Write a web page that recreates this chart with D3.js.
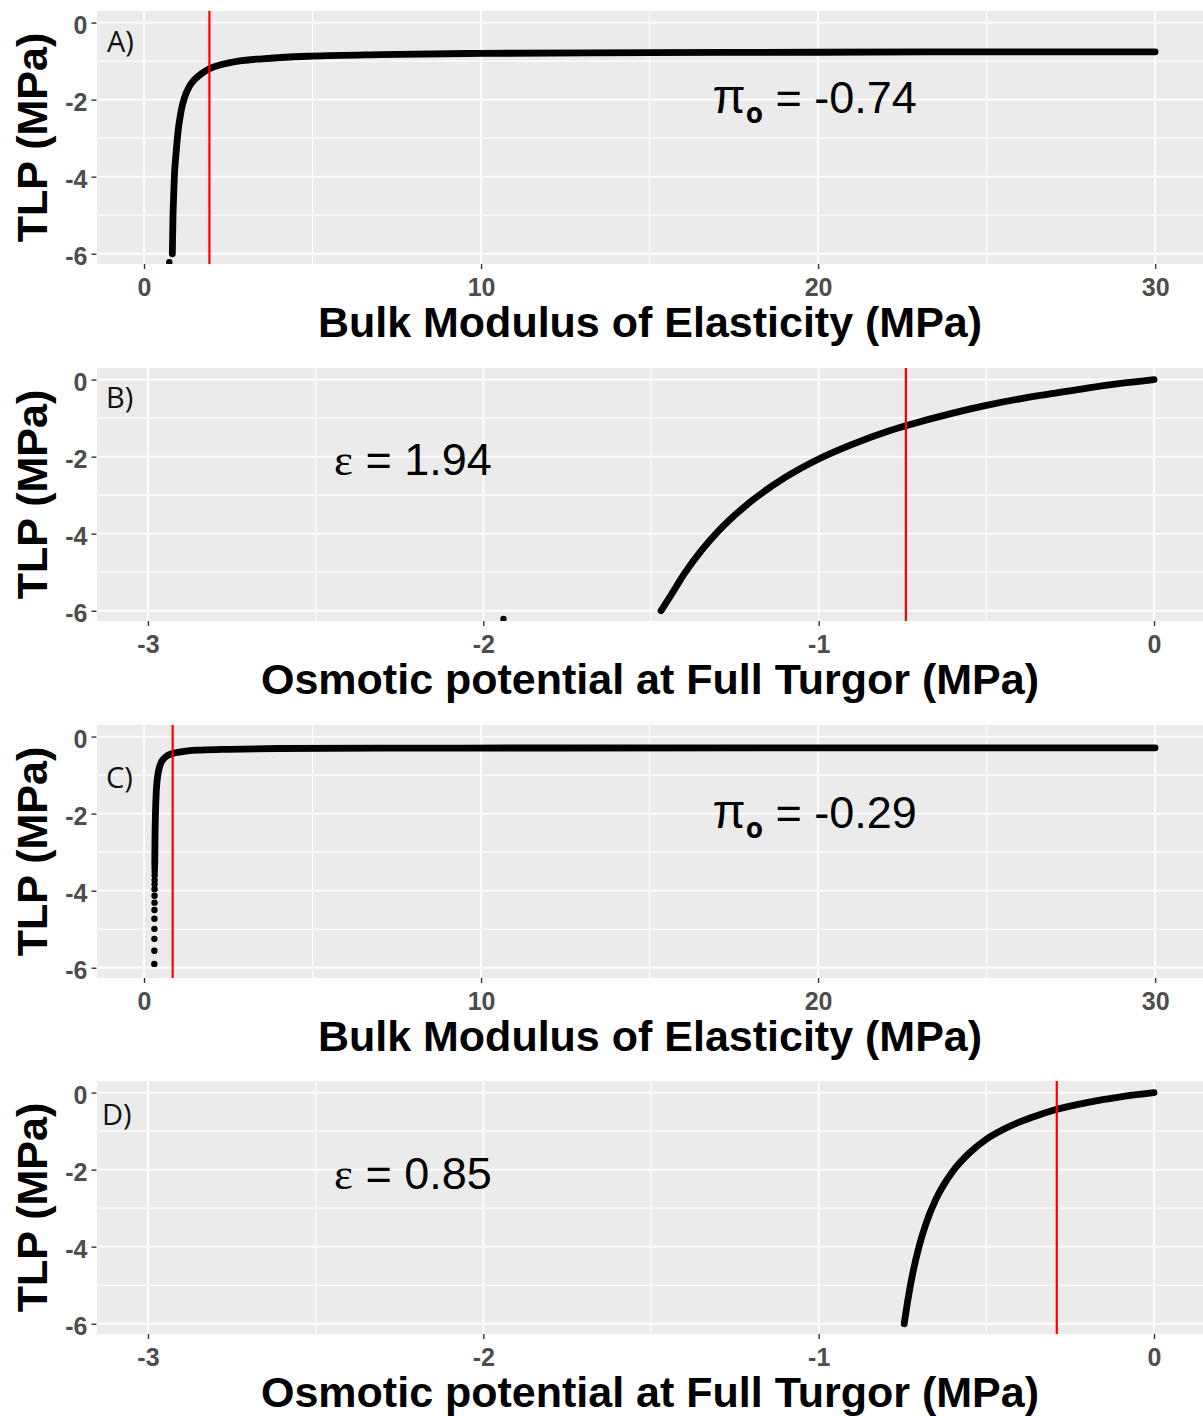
<!DOCTYPE html>
<html>
<head>
<meta charset="utf-8">
<script src="https://cdn.jsdelivr.net/npm/d3@7"></script>
<style>
  body { margin: 0; background: #fff; }
  svg { display: block; }
</style>
</head>
<body>
<div id="chart"></div>
<script>
// Values
var panelLabels = ["A)", "B)", "C)", "D)"];
var xTitles = ["Bulk Modulus of Elasticity (MPa)", "Osmotic potential at Full Turgor (MPa)",
               "Bulk Modulus of Elasticity (MPa)", "Osmotic potential at Full Turgor (MPa)"];
var yTitle = "TLP (MPa)";
var elasticTicks = [0, 10, 20, 30];
var osmoticTicks = [-3, -2, -1, 0];
var yTicks = [0, -2, -4, -6];

// A) TLP vs bulk modulus, pi_o = -0.74
var curveA = [[0.84, -6.0], [0.86, -5.0], [0.88, -4.5], [0.9, -4.0], [0.95, -3.4], [1.0, -2.9],
              [1.1, -2.3], [1.2, -1.95], [1.35, -1.65], [1.5, -1.48], [1.7, -1.33], [1.94, -1.2],
              [2.3, -1.09], [2.8, -1.0], [3.5, -0.94], [5, -0.87], [7, -0.83], [10, -0.80],
              [15, -0.78], [20, -0.77], [25, -0.76], [30, -0.76]];
var strayA = [[0.75, -6.22]];

// B) TLP vs osmotic potential, epsilon = 1.94
var curveB = [[-1.47, -6.0], [-1.44, -5.59], [-1.4, -5.03], [-1.35, -4.44], [-1.3, -3.94],
              [-1.2, -3.15], [-1.1, -2.54], [-1.0, -2.06], [-0.9, -1.68], [-0.8, -1.36],
              [-0.74, -1.2], [-0.6, -0.87], [-0.5, -0.67], [-0.4, -0.5], [-0.3, -0.36],
              [-0.2, -0.22], [-0.1, -0.1], [0, 0]];
var strayB = [[-1.94, -6.21]];

// C) TLP vs bulk modulus, pi_o = -0.29
var curveC = [[0.319, -3.3], [0.325, -2.69], [0.34, -2.0], [0.36, -1.49], [0.38, -1.22],
              [0.41, -1.0], [0.45, -0.82], [0.5, -0.69], [0.56, -0.6], [0.65, -0.52],
              [0.75, -0.47], [0.85, -0.44], [1.0, -0.41], [1.3, -0.37], [1.7, -0.35],
              [2.5, -0.33], [4, -0.31], [7, -0.30], [12, -0.297], [20, -0.294], [30, -0.293]];
var dotsC = [[0.305, -5.90], [0.306, -5.56], [0.307, -5.25], [0.308, -4.99], [0.309, -4.73],
             [0.310, -4.50], [0.311, -4.31], [0.312, -4.13], [0.313, -3.96], [0.314, -3.83],
             [0.315, -3.72], [0.316, -3.60], [0.317, -3.50], [0.318, -3.42], [0.318, -3.36]];

// D) TLP vs osmotic potential, epsilon = 0.85
var curveD = [[-0.745, -6.0], [-0.735, -5.43], [-0.72, -4.71], [-0.7, -3.97], [-0.68, -3.4],
              [-0.65, -2.76], [-0.6, -2.04], [-0.55, -1.56], [-0.5, -1.21], [-0.45, -0.96],
              [-0.4, -0.76], [-0.35, -0.6], [-0.3, -0.46], [-0.2, -0.26], [-0.1, -0.11], [0, 0]];

var refLines = [1.94, -0.74, 0.85, -0.29];
var annoSymbols = ["π", "ε", "π", "ε"];
var annoValues = ["-0.74", "1.94", "-0.29", "0.85"];

// Layout
var W = 1203, H = 1416;
var left = 97, right = 1203, panelH = 253;
var tops = [11, 368, 725, 1081];
var curves = [curveA, curveB, curveC, curveD];
var strays = [strayA, strayB, [], []];
var dots = [[], [], dotsC, []];
var kinds = ["elastic", "osmotic", "elastic", "osmotic"];
var labelPos = [[-1.10, -0.76], [-3.125, -0.745], [-1.13, -1.33], [-3.137, -0.84]];
var annoPos = [[19.9, -2.35], [-2.21, -2.48], [19.9, -2.37], [-2.21, -2.50]];

var svg = d3.select("#chart").append("svg")
    .attr("width", W)
    .attr("height", H);

var sans = "'Liberation Sans', Arial, sans-serif";

var line = d3.line()
    .x(function(d) { return d.sx; })
    .y(function(d) { return d.sy; })
    .curve(d3.curveMonotoneX);

tops.forEach(function(top, i) {
    var elastic = kinds[i] === "elastic";
    var x = d3.scaleLinear()
        .domain(elastic ? [-1.395, 31.42] : [-3.152, 0.146])
        .range([left, right]);
    var y = d3.scaleLinear()
        .domain([0.30, -6.266])
        .range([top, top + panelH]);
    var xTicks = elastic ? elasticTicks : osmoticTicks;
    var xMinor = elastic ? [5, 15, 25] : [-2.5, -1.5, -0.5];
    var yMinor = [-1, -3, -5];

    var g = svg.append("g");

    g.append("clipPath").attr("id", "clip" + i)
      .append("rect")
        .attr("x", left).attr("y", top)
        .attr("width", right - left).attr("height", panelH);

    // panel background
    g.append("rect")
        .attr("x", left).attr("y", top)
        .attr("width", right - left).attr("height", panelH)
        .attr("fill", "#EBEBEB");

    // grid
    g.selectAll(".vminor").data(xMinor).enter().append("line")
        .attr("x1", x).attr("x2", x)
        .attr("y1", top).attr("y2", top + panelH)
        .attr("stroke", "#fff").attr("stroke-width", 1.1);
    g.selectAll(".hminor").data(yMinor).enter().append("line")
        .attr("x1", left).attr("x2", right)
        .attr("y1", y).attr("y2", y)
        .attr("stroke", "#fff").attr("stroke-width", 1.1);
    g.selectAll(".vmajor").data(xTicks).enter().append("line")
        .attr("x1", x).attr("x2", x)
        .attr("y1", top).attr("y2", top + panelH)
        .attr("stroke", "#fff").attr("stroke-width", 1.8);
    g.selectAll(".hmajor").data(yTicks).enter().append("line")
        .attr("x1", left).attr("x2", right)
        .attr("y1", y).attr("y2", y)
        .attr("stroke", "#fff").attr("stroke-width", 1.8);

    // axes
    var fmt = function(d) { return String(d); };
    var yAxis = d3.axisLeft(y).tickValues(yTicks).tickSize(5).tickPadding(4).tickFormat(fmt);
    var ya = g.append("g").attr("transform", "translate(" + (left - 0.5) + ",0)").call(yAxis);
    var xAxis = d3.axisBottom(x).tickValues(xTicks).tickSize(5).tickPadding(10).tickFormat(fmt);
    var xa = g.append("g").attr("transform", "translate(0," + (top + panelH) + ")").call(xAxis);
    [ya, xa].forEach(function(a) {
        a.select(".domain").remove();
        a.selectAll(".tick line").attr("stroke", "#333").attr("stroke-width", 1.4);
        a.selectAll(".tick text")
            .attr("fill", "#4D4D4D")
            .style("font-family", sans)
            .style("font-size", "25px")
            .style("font-weight", "bold");
    });
    ya.selectAll(".tick text").attr("dy", "0.42em");
    xa.selectAll(".tick text").attr("dy", "0.68em");

    // titles
    g.append("text")
        .attr("transform", "translate(47," + (top + panelH / 2) + ") rotate(-90)")
        .attr("text-anchor", "middle")
        .style("font-family", sans).style("font-size", "43px").style("font-weight", "bold")
        .attr("fill", "#000")
        .text(yTitle);
    g.append("text")
        .attr("x", (left + right) / 2)
        .attr("y", top + panelH + 73)
        .attr("text-anchor", "middle")
        .style("font-family", sans).style("font-size", "43px").style("font-weight", "bold")
        .attr("fill", "#000")
        .text(xTitles[i]);

    var plot = g.append("g").attr("clip-path", "url(#clip" + i + ")");

    // curve
    var pts = curves[i].map(function(d) { return { sx: x(d[0]), sy: y(d[1]) }; });
    plot.append("path")
        .attr("d", line(pts))
        .attr("fill", "none")
        .attr("stroke", "#000")
        .attr("stroke-width", 6.8)
        .attr("stroke-linecap", "round")
        .attr("stroke-linejoin", "round");

    plot.selectAll(".dot").data(dots[i].concat(strays[i])).enter().append("circle")
        .attr("cx", function(d) { return x(d[0]); })
        .attr("cy", function(d) { return y(d[1]); })
        .attr("r", 3.2)
        .attr("fill", "#000");

    // reference line
    plot.append("line")
        .attr("x1", x(refLines[i])).attr("x2", x(refLines[i]))
        .attr("y1", top).attr("y2", top + panelH)
        .attr("stroke", "#FF0000").attr("stroke-width", 2.2);

    // panel label
    g.append("text")
        .attr("x", x(labelPos[i][0]))
        .attr("y", y(labelPos[i][1]))
        .style("font-family", "'Open Sans', 'Noto Sans', sans-serif")
        .style("font-size", "29px")
        .attr("fill", "#111")
        .text(panelLabels[i]);

    // annotation
    var t = g.append("text")
        .attr("x", x(annoPos[i][0]))
        .attr("y", y(annoPos[i][1]))
        .attr("text-anchor", "middle")
        .style("font-family", sans)
        .style("font-size", "45px")
        .attr("fill", "#000");
    if (annoSymbols[i] === "π") {
        t.append("tspan").style("font-size", "48px").text("π");
        t.append("tspan")
            .attr("dy", 10)
            .style("font-size", "28px").style("font-weight", "bold")
            .style("font-family", "'Open Sans', sans-serif")
            .text("o");
        t.append("tspan").attr("dy", -10).text(" = " + annoValues[i]);
    } else {
        t.append("tspan").style("font-family", "'Liberation Serif', 'DejaVu Serif', serif").text("ε");
        t.append("tspan").text(" = " + annoValues[i]);
    }
});
</script>
</body>
</html>
